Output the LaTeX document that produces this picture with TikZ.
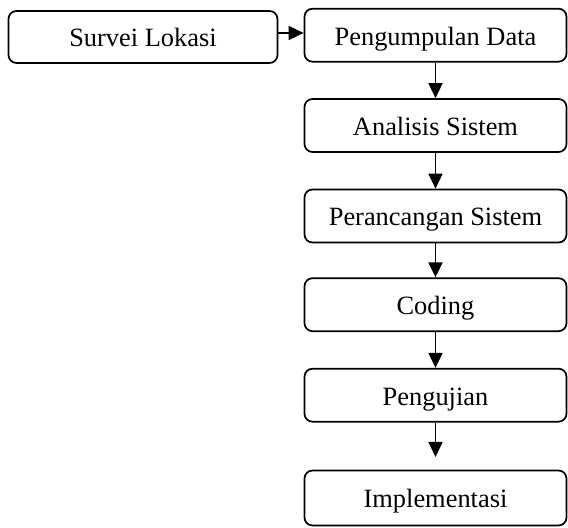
\documentclass[tikz,border=0pt]{standalone}
\usepackage{fontspec}
\setmainfont{Liberation Serif}
\usetikzlibrary{arrows.meta}
\begin{document}
\begin{tikzpicture}[x=0.5pt,y=-0.5pt,
  stepbox/.style={draw=black, line width=0.85pt, rounded corners=4pt,
    inner sep=0pt, minimum height=26.5pt, text height=11pt, text depth=1pt,
    font=\fontsize{13.2}{15}\selectfont},
  colbox/.style={stepbox, minimum width=131pt},
  arr/.style={draw=black, line width=0.85pt, -{Triangle[length=7.5pt,width=7pt]}}]
  \useasboundingbox (0,0) rectangle (568,528);

  % left start box
  \node[stepbox, minimum width=134.5pt, minimum height=26pt] (survei) at (143,37) {Survei Lokasi};

  % main column
  \node[colbox] (kumpul)  at (435.5,35.2)  {Pengumpulan Data};
  \node[colbox] (analisis) at (435.5,125.5) {Analisis Sistem};
  \node[colbox] (rancang)  at (435.5,216)   {Perancangan Sistem};
  \node[colbox] (coding)   at (435.5,304.7) {Coding};
  \node[colbox] (uji)      at (435.5,395.2) {Pengujian};
  \node[colbox, minimum height=27.5pt] (impl) at (435.5,498) {Implementasi};

  \coordinate (tipimpl) at (435.5,457);

  % connectors
  \draw[arr] (survei.east |- 0,33) -- (kumpul.west |- 0,33);
  \draw[arr] (kumpul.south) -- (analisis.north);
  \draw[arr] (analisis.south) -- (rancang.north);
  \draw[arr] (rancang.south) -- (coding.north);
  \draw[arr] (coding.south) -- (uji.north);
  \draw[arr] (uji.south) -- (tipimpl);
\end{tikzpicture}
\end{document}
